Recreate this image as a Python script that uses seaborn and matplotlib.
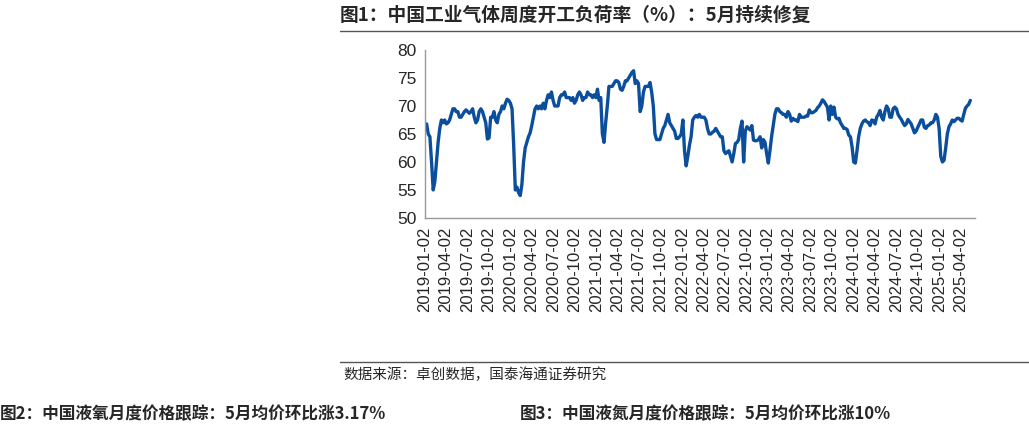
import numpy as np
import pandas as pd
import matplotlib
matplotlib.use("Agg")
import matplotlib.pyplot as plt
from matplotlib.lines import Line2D
import seaborn as sns

# weekly load rate (%)
q2019 = [66.5, 66.8, 65, 64.5, 60, 55, 56.5, 60, 63.5, 66, 67.5, 67, 67.5,
         66.8, 67, 67.5, 68.5, 69.5, 69.5, 69, 69, 68, 68, 68.5, 69, 69.3,
         69, 68.7, 69, 69.5, 68, 67, 67.5, 69, 69.5, 69, 68, 67, 64.1,
         64.3, 68, 68, 69, 67.5, 67, 68.5, 69, 70, 69.5, 70.5, 71.2, 71]
q2020 = [70.5, 69.5, 63, 55, 55.5, 54.5, 54, 56, 60, 62.5, 63.5, 64.5, 65.2,
         66.5, 68, 69.5, 70, 69.5, 70, 69.5, 70.5, 69.5, 71, 72, 71.5, 72.5,
         71, 70, 70, 70, 71.5, 72, 72, 72.5, 71.5, 71.5, 71.5, 71, 71.5,
         70.5, 71, 72, 72.5, 72, 71, 71.5, 71.5, 72.5, 72, 72, 71.5, 72]
q2021 = [71.5, 73, 71, 71.5, 65, 63.5, 67, 70, 73.5, 73.5, 73.5, 74, 74.5,
         74.5, 74.2, 73, 72.8, 73.5, 74.5, 74.5, 75, 75.5, 76, 76.3, 74, 74.5,
         74, 69, 70, 72.5, 73.5, 73.5, 73.5, 74.2, 72.5, 70, 65, 64, 64,
         64, 65, 66, 66.5, 67.5, 68.5, 67, 66.5, 66, 65.5, 64.2, 64.2, 64.5]
q2022 = [65, 67.5, 62, 59.3, 61, 63, 64.5, 67.5, 68, 68.3, 68, 68.5, 68,
         68, 68, 67.5, 66, 65, 65, 65.3, 65.5, 66, 65.5, 65, 64.5, 64.5,
         62, 61.5, 61.8, 62, 61, 60, 61.5, 63.3, 63.5, 64, 66, 67.3, 60,
         65.5, 66.3, 66, 65.7, 66.5, 63.9, 63.8, 63.8, 64, 64.5, 62.5, 64, 63.5]
q2023 = [61.5, 59.8, 62, 64.5, 66.5, 68.5, 69.5, 69.5, 69, 68.8, 68.5, 68.5, 68,
         69, 68.5, 67.3, 67.8, 67.5, 67.5, 67.2, 68.5, 68, 68, 68, 68.2, 68.2,
         69.3, 68.8, 68.8, 69, 69.2, 69.7, 70, 70.5, 71.1, 70.8, 70.3, 69.8, 67.5,
         70, 68.5, 69.8, 68, 67.7, 67.8, 67, 66.5, 66, 66, 65.8, 64.8, 64.5]
q2024 = [62.7, 60, 59.8, 62, 64.5, 66, 66.8, 67.3, 67.5, 67.2, 67, 66.5, 67.5,
         67.4, 66.8, 68, 68.5, 69.2, 68, 67.5, 69, 70, 69.5, 68, 68, 69.5,
         69.8, 69.5, 68.5, 68, 67.6, 67, 66.5, 66.8, 67.6, 67.2, 66.8, 66, 65.2,
         65.5, 66.2, 66.8, 67.5, 67.5, 66.2, 66, 66.5, 66.6, 67, 67, 67.5, 68.5]
q2025 = [68, 66, 61, 60, 60.3, 62.5, 65, 66.3, 66.8, 67.5, 67.2, 67.5, 67.8,
         67.8, 67.5, 67.3, 68.5, 69.6, 70, 70.3, 71]

values = q2019 + q2020 + q2021 + q2022 + q2023 + q2024 + q2025
dates = pd.date_range("2019-01-02", periods=len(values), freq="7D")
tick_dates = pd.date_range("2019-01-01", "2025-04-01", freq="3MS") + pd.Timedelta(days=1)
tick_labels = [d.strftime("%Y-%m-%d") for d in tick_dates]
df = pd.DataFrame({"date": dates, "rate": values})

sns.set_style("white")
plt.rcParams["font.family"] = ["Noto Sans CJK SC", "DejaVu Sans"]

fig = plt.figure(figsize=(10.29, 4.24), dpi=100)
ax = fig.add_axes([0.413, 0.486, 0.535, 0.396])
sns.lineplot(data=df, x="date", y="rate", ax=ax, color="#0b4f9c", linewidth=2.4)

ax.set_xlim(pd.Timestamp("2019-01-02"), pd.Timestamp("2025-06-05"))
ax.set_ylim(50, 80)
ax.set_yticks(range(50, 81, 5))
ax.set_xticks(tick_dates)
ax.set_xticklabels(tick_labels, rotation=90, fontsize=12, family="Liberation Sans")
for lab in ax.get_yticklabels():
    lab.set_family("Liberation Sans")
    lab.set_fontsize(12.5)
ax.set_xlabel("")
ax.set_ylabel("")
for s in ["top", "right"]:
    ax.spines[s].set_visible(False)
for s in ["left", "bottom"]:
    ax.spines[s].set_color("#999999")
    ax.spines[s].set_linewidth(1)
ax.tick_params(axis="both", which="both", direction="out", length=4, width=1,
               color="#999999", pad=2)

fig.text(340 / 1029, 1 - 15 / 424, "图1：中国工业气体周度开工负荷率（%）：5月持续修复",
         fontsize=13.5, fontweight="bold", va="center", ha="left")
fig.add_artist(Line2D([340 / 1029, 1], [1 - 31 / 424] * 2, color="#555555", lw=1))
fig.add_artist(Line2D([340 / 1029, 1], [1 - 362 / 424] * 2, color="#555555", lw=1))
fig.text(343 / 1029, 1 - 375 / 424, "数据来源：卓创数据，国泰海通证券研究",
         fontsize=10.5, va="center", ha="left")
fig.text(0.0, 0.003, "图2：中国液氧月度价格跟踪：5月均价环比涨3.17%",
         fontsize=12, fontweight="bold", va="bottom", ha="left")
fig.text(520 / 1029, 0.003, "图3：中国液氮月度价格跟踪：5月均价环比涨10%",
         fontsize=12, fontweight="bold", va="bottom", ha="left")

fig.savefig("out.png", dpi=100)
plt.close(fig)
